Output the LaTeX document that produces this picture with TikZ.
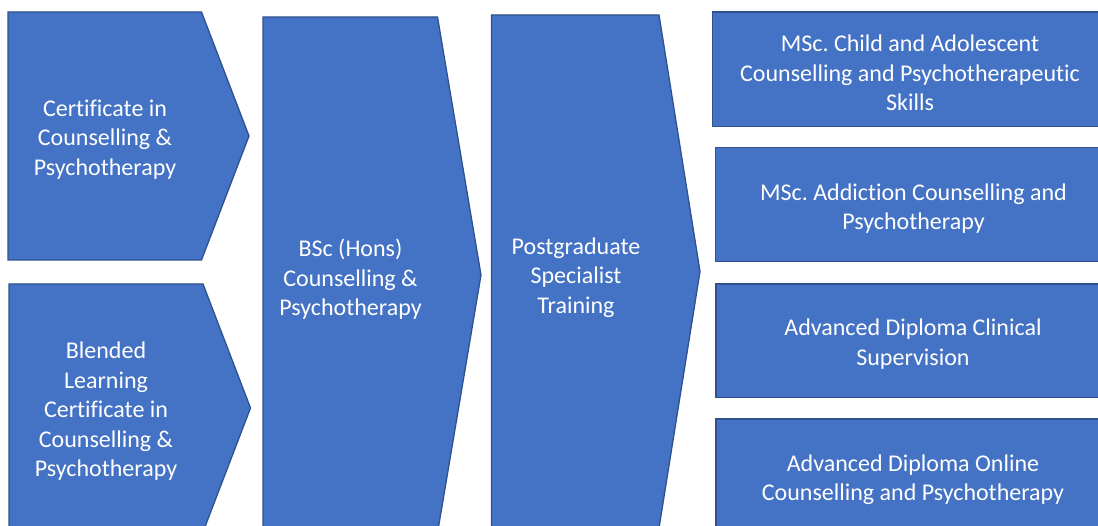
\documentclass[tikz,border=0pt]{standalone}
\usepackage{fontspec}
\setmainfont[Ligatures=NoCommon]{Carlito}
\frenchspacing
\definecolor{boxfill}{HTML}{4472C4}
\definecolor{boxline}{HTML}{2F528F}
\tikzset{
  shapebox/.style={fill=boxfill, draw=boxline, line width=1.3pt, line join=miter},
  label/.style={text=white, align=center, inner sep=0pt, font=\fontsize{24}{29.5}\selectfont}
}
\begin{document}
\begin{tikzpicture}[x=1pt,y=-1pt]
\useasboundingbox (0,0) rectangle (1098,526);
\clip (0,0) rectangle (1098,526);
\fill[white] (0,0) rectangle (1098,526);
% chevrons
\draw[shapebox] (8,12) -- (201.5,12) -- (249,136) -- (201.5,260) -- (8,260) -- cycle;
\draw[shapebox] (9,284) -- (203,284) -- (250.5,408) -- (203,532) -- (9,532) -- cycle;
\draw[shapebox] (263,17) -- (437.5,17) -- (481,275) -- (437.5,533) -- (263,533) -- cycle;
\draw[shapebox] (491.5,15) -- (659,15) -- (700,271.5) -- (659,528) -- (491.5,528) -- cycle;
% right boxes
\draw[shapebox] (712.5,12) rectangle (1110,126.5);
\draw[shapebox] (715.5,147.5) rectangle (1110,261.5);
\draw[shapebox] (716,284) rectangle (1110,397.5);
\draw[shapebox] (716,419) rectangle (1110,560);
% labels
\node[label] (cert) at (105,139.5) {Certificate in\\Counselling \&\\Psychotherapy};
\node[label] (blend) at (106,411.5) {Blended\\Learning\\Certificate in\\Counselling \&\\Psychotherapy};
\node[label] (bsc) at (350.5,279.5) {BSc (Hons)\\Counselling \&\\Psychotherapy};
\node[label] (pg) at (576,277.5) {Postgraduate\\Specialist\\Training};
\node[label] (msca) at (910,73) {MSc. Child and Adolescent\\Counselling and Psychotherapeutic\\Skills};
\node[label] (mscb) at (913.5,208.5) {MSc. Addiction Counselling and\\Psychotherapy};
\node[label] (advc) at (913,344) {Advanced Diploma Clinical\\Supervision};
\node[label] (advd) at (913,479.5) {Advanced Diploma Online\\Counselling and Psychotherapy};
\end{tikzpicture}
\end{document}
